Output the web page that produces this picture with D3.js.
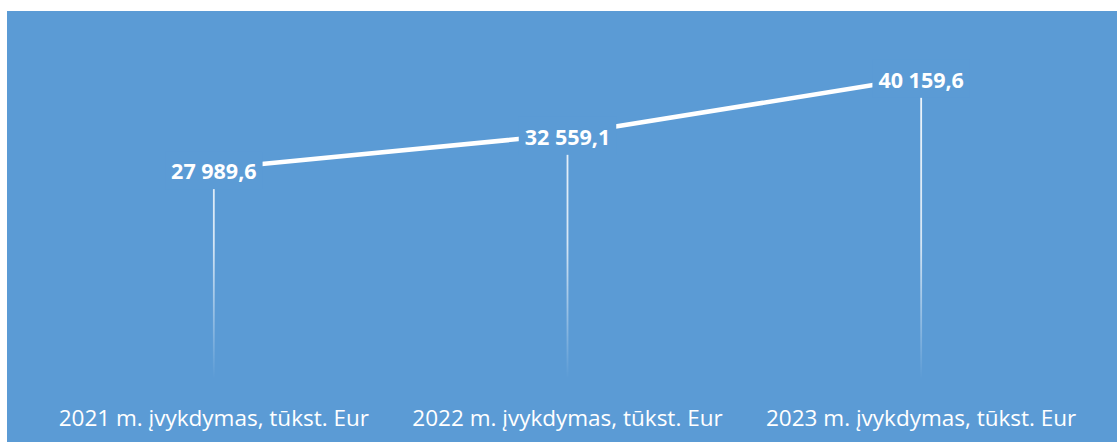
<!DOCTYPE html>
<html>
<head>
<meta charset="utf-8">
<script src="https://cdn.jsdelivr.net/npm/d3@7"></script>
<style>
  html, body { margin: 0; padding: 0; background: #fff; }
  svg { display: block; }
</style>
</head>
<body>
<svg id="chart" width="1117" height="442"></svg>
<script>
const categories = [
  "2021 m. įvykdymas, tūkst. Eur",
  "2022 m. įvykdymas, tūkst. Eur",
  "2023 m. įvykdymas, tūkst. Eur"
];
const values = [27989.6, 32559.1, 40159.6];
const yDomain = [0, 45000];

const W = 1117, H = 442;
const bg = "#5b9bd5";

const svg = d3.select("#chart");

// blue panel (white strip on top and left like the original)
svg.append("rect")
  .attr("x", 7).attr("y", 11)
  .attr("width", W - 7).attr("height", H - 11)
  .attr("fill", bg);

const x = d3.scaleBand().domain(categories).range([37, 1098]);
const y = d3.scaleLinear().domain(yDomain).range([378.5, 41]);
const cx = d => x(d) + x.bandwidth() / 2;

const lt = d3.formatLocale({ decimal: ",", thousands: " ", grouping: [3], currency: ["", ""] });
const fmt = lt.format(",.1f");

const data = categories.map((c, i) => ({ cat: c, value: values[i] }));

// drop lines fading toward the axis
const defs = svg.append("defs");
const grad = defs.append("linearGradient")
  .attr("id", "dropFade")
  .attr("gradientUnits", "userSpaceOnUse")
  .attr("x1", 0).attr("x2", 0)
  .attr("y1", y.range()[1]).attr("y2", y.range()[0]);
grad.append("stop").attr("offset", "0%").attr("stop-color", "#fff").attr("stop-opacity", 0.95);
grad.append("stop").attr("offset", "60%").attr("stop-color", "#fff").attr("stop-opacity", 0.75);
grad.append("stop").attr("offset", "100%").attr("stop-color", "#fff").attr("stop-opacity", 0);

svg.selectAll("line.drop")
  .data(data)
  .join("line")
  .attr("class", "drop")
  .attr("x1", d => cx(d.cat)).attr("x2", d => cx(d.cat))
  .attr("y1", d => y(d.value)).attr("y2", y(0))
  .attr("stroke", "url(#dropFade)")
  .attr("stroke-width", 1.8);

// main line
const line = d3.line().x(d => cx(d.cat)).y(d => y(d.value));
svg.append("path")
  .datum(data)
  .attr("d", line)
  .attr("fill", "none")
  .attr("stroke", "#fff")
  .attr("stroke-width", 4.5);

// data labels with background boxes
const lab = svg.selectAll("g.lab")
  .data(data)
  .join("g")
  .attr("class", "lab")
  .attr("transform", d => `translate(${cx(d.cat)},${y(d.value)})`);

lab.append("rect").attr("class", "box").attr("fill", bg);
lab.append("text")
  .attr("text-anchor", "middle")
  .attr("dy", "0.35em")
  .attr("y", 3)
  .attr("fill", "#fff")
  .attr("font-family", "'Open Sans', sans-serif")
  .attr("font-weight", "bold")
  .attr("font-size", 21.5)
  .text(d => fmt(d.value));

lab.each(function () {
  const g = d3.select(this);
  const b = g.select("text").node().getBBox();
  g.select("rect.box")
    .attr("x", b.x - 6).attr("y", b.y - 5)
    .attr("width", b.width + 12).attr("height", b.height + 9);
});

// category labels
svg.append("g")
  .selectAll("text")
  .data(categories)
  .join("text")
  .attr("x", d => cx(d))
  .attr("y", 426)
  .attr("text-anchor", "middle")
  .attr("fill", "#fff")
  .attr("font-family", "'Open Sans', sans-serif")
  .attr("font-size", 22.5)
  .text(d => d);
</script>
</body>
</html>
